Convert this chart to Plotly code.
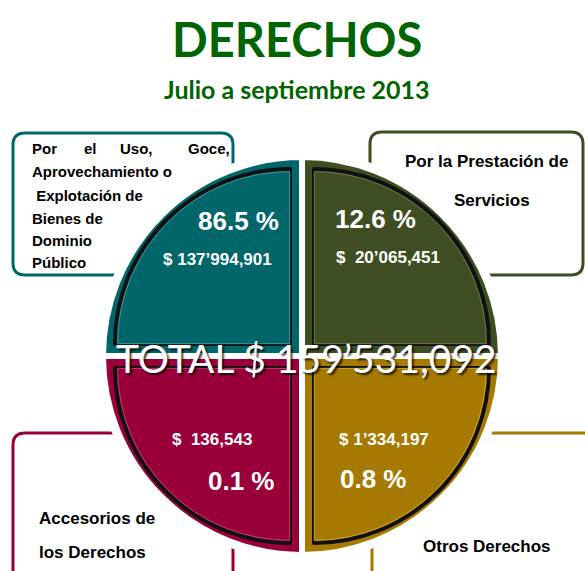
import plotly.graph_objects as go

# ---------------- data ----------------
title_text = "DERECHOS"
subtitle_text = "Julio a septiembre 2013"
# order follows the pie drawing order (clockwise from 12 o'clock)
categories = [
    "Por la Prestación de<br>Servicios",
    "Otros Derechos",
    "Accesorios de<br>los Derechos",
    "Por el Uso, Goce,<br>Aprovechamiento o<br> Explotación de<br>Bienes de<br>Dominio<br>Público",
]
amounts = [20065451, 1334197, 136543, 137994901]
percents = [12.6, 0.8, 0.1, 86.5]
total_amount = 159531092
quadrant_weights = [1, 1, 1, 1]   # the infographic draws four equal quadrants

# ---------------- style ----------------
W, H = 585, 571
fills = ["#3E4E22", "#A67A00", "#99003A", "#00666A"]
lights = ["#6B7A4A", "#D2A633", "#C2406A", "#3A9AA0"]
green = "#006400"


def X(px):
    return px / W


def Y(py):
    return 1 - py / H


def money(v, pad=False):
    parts = f"{v:,}".split(",")
    lead = "$&nbsp;&nbsp;" if pad else "$ "
    if len(parts) >= 3:
        return lead + ",".join(parts[:-2]) + "’" + parts[-2] + "," + parts[-1]
    return lead + ",".join(parts)


cx, cy = 302, 356


def dom(half):
    return dict(x=[X(cx - half), X(cx + half)], y=[Y(cy + half), Y(cy - half)])


fig = go.Figure()
common = dict(values=quadrant_weights, labels=categories, sort=False,
              direction="clockwise", textinfo="none", hoverinfo="skip",
              showlegend=False)
# grey rim
fig.add_trace(go.Pie(domain=dom(202), marker=dict(colors=["#7d7d7d"] * 4,
                                                  line=dict(color="white", width=6)), **common))
# main quadrants
fig.add_trace(go.Pie(domain=dom(199), marker=dict(colors=fills,
                                                  line=dict(color="white", width=6)), **common))
# inset bevel line
r_in, shift = 175, 17
p = shift / r_in
fig.add_trace(go.Pie(domain=dom(r_in + shift), pull=[p] * 4,
                     marker=dict(colors=fills, line=dict(color="#111111", width=4)), **common))
r_in2, shift2 = 172, 17.5
p2 = shift2 / r_in2
fig.add_trace(go.Pie(domain=dom(r_in2 + shift2), pull=[p2] * 4,
                     marker=dict(colors=fills, line=dict(color=lights, width=1)), **common))

# ---------------- callout boxes ----------------
def rrect(x0, y0, x1, y1, r):
    return (f"M {X(x0+r)},{Y(y0)} L {X(x1-r)},{Y(y0)} Q {X(x1)},{Y(y0)} {X(x1)},{Y(y0+r)} "
            f"L {X(x1)},{Y(y1-r)} Q {X(x1)},{Y(y1)} {X(x1-r)},{Y(y1)} "
            f"L {X(x0+r)},{Y(y1)} Q {X(x0)},{Y(y1)} {X(x0)},{Y(y1-r)} "
            f"L {X(x0)},{Y(y0+r)} Q {X(x0)},{Y(y0)} {X(x0+r)},{Y(y0)} Z")


boxes = [(370, 132, 583, 275), (372, 433, 620, 610), (13, 433, 233, 610), (13, 133, 233, 275)]
shapes = []
for (x0, y0, x1, y1), c in zip(boxes, fills):
    shapes.append(dict(type="path", xref="paper", yref="paper", layer="below",
                       path=rrect(x0, y0, x1, y1, 12), fillcolor="white",
                       line=dict(color=c, width=3)))

annotations = []


def ann(text, px, py, size, color="black", xanchor="center", family="Liberation Sans, Arial",
        bold=True, **kw):
    t = f"<b>{text}</b>" if bold else text
    annotations.append(dict(text=t, x=X(px), y=Y(py), xref="paper", yref="paper",
                            xanchor=xanchor, yanchor="middle", showarrow=False,
                            font=dict(size=size, color=color, family=family, **kw)))


# titles
ann(title_text, 297, 39, 47, color=green, family="Lato, Open Sans")
ann(subtitle_text, 297, 89, 25, color=green, family="Lato, Open Sans")

# values inside quadrants
pct_pos = [(375, 219), (373, 479), (241, 481), (238, 221)]
amt_pos = [(388, 257), (384, 440), (212, 440), (217, 259)]
amt_pad = [True, False, True, False]
for pc, am, pp, ap, pad in zip(percents, amounts, pct_pos, amt_pos, amt_pad):
    ann(f"{pc} %", pp[0], pp[1], 26, color="white")
    ann(money(am, pad), ap[0], ap[1], 17, color="white")

# category labels
lines = [c.split("<br>") for c in categories]
# top-right box, centred lines
for ln, (px, py) in zip(lines[0], [(486, 161), (492, 200)]):
    ann(ln, px, py, 17, xanchor="center")
# bottom-right box
ann(lines[1][0], 487, 546, 17)
# bottom-left box
for ln, py in zip(lines[2], [518, 552]):
    ann(ln, 37, py, 17, xanchor="left")
# top-left box: first line justified
first_words = lines[3][0].split()
word_x = [30, 82, 118, 186]
for w, px in zip(first_words, word_x):
    ann(w, px, 148, 15, xanchor="left")
for ln, py in zip(lines[3][1:], [172, 195, 218, 240, 262]):
    ann(ln.replace(" ", "&nbsp;") if ln.startswith(" ") else ln, 30, py, 15, xanchor="left")

# total
tot = money(total_amount).replace("$ ", "")
ann(f"TOTAL $ {tot}", 306, 358, 39, color="white", family="Lato, Open Sans", bold=False,
    shadow="2px 2px 2px rgba(0,0,0,0.75)")

fig.update_layout(width=W, height=H, margin=dict(l=0, r=0, t=0, b=0),
                  paper_bgcolor="white", plot_bgcolor="white",
                  shapes=shapes, annotations=annotations)
fig.write_html("out.html", config={"displayModeBar": False},
               post_script="document.body.style.margin='0';")
